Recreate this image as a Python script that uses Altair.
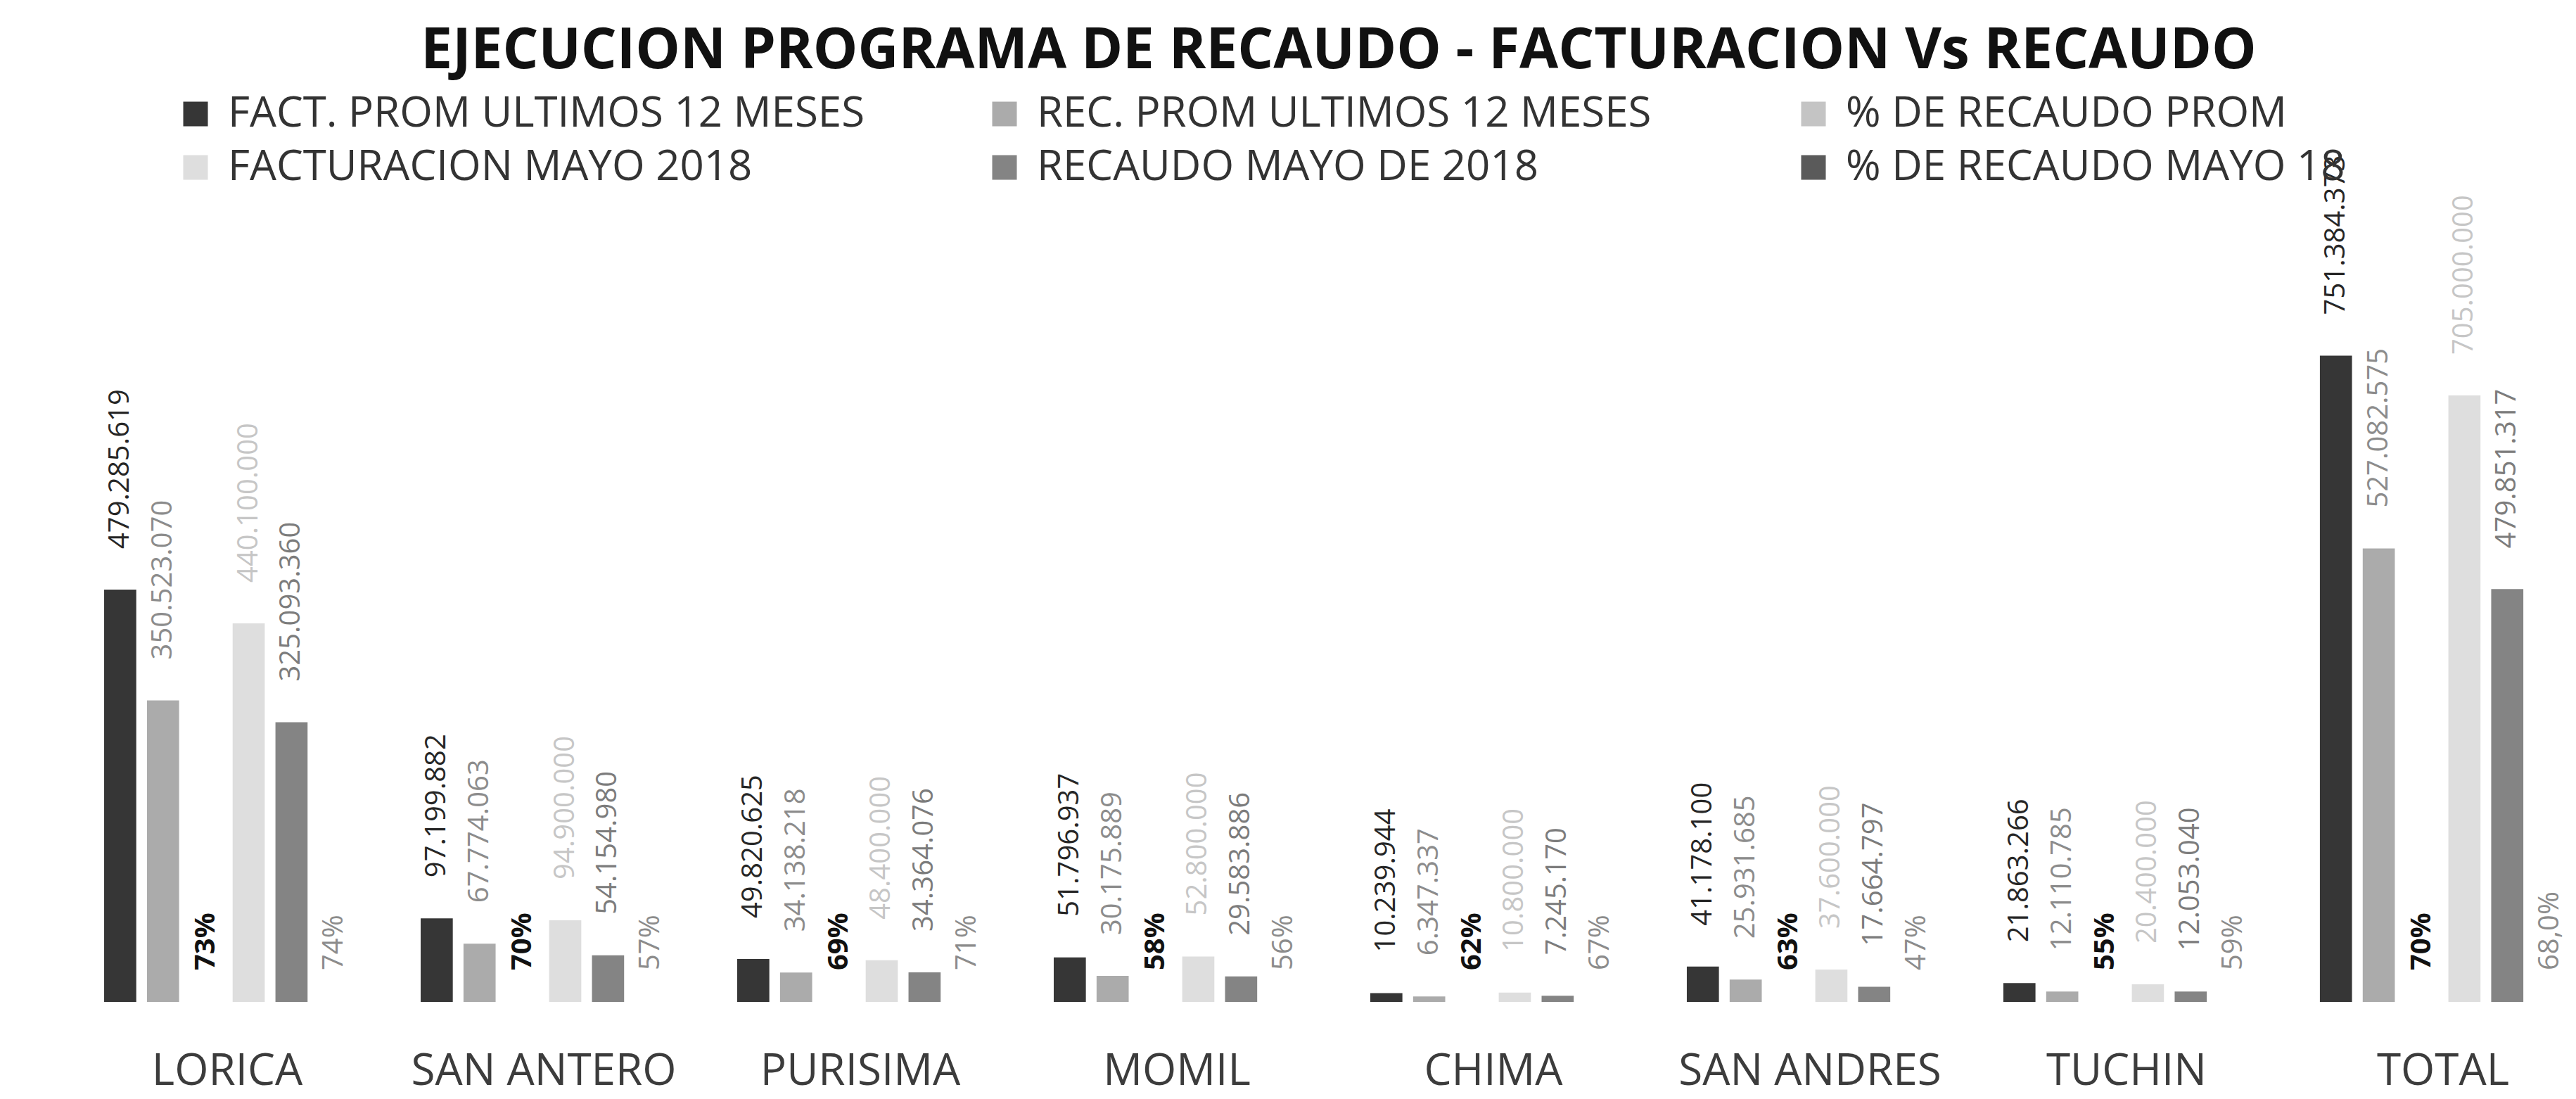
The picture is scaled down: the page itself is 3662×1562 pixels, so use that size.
import altair as alt
import pandas as pd

categories = ["LORICA", "SAN ANTERO", "PURISIMA", "MOMIL", "CHIMA", "SAN ANDRES", "TUCHIN", "TOTAL"]
series = [
    "FACT. PROM ULTIMOS 12 MESES",
    "REC. PROM ULTIMOS 12 MESES",
    "% DE RECAUDO PROM",
    "FACTURACION MAYO 2018",
    "RECAUDO MAYO DE 2018",
    "% DE RECAUDO MAYO 18",
]

fact_prom = [479285619, 97199882, 49820625, 51796937, 10239944, 41178100, 21863266, 751384373]
rec_prom = [350523070, 67774063, 34138218, 30175889, 6347337, 25931685, 12110785, 527082575]
pct_prom = [0.73, 0.70, 0.69, 0.58, 0.62, 0.63, 0.55, 0.70]
pct_prom_labels = ["73%", "70%", "69%", "58%", "62%", "63%", "55%", "70%"]
fact_mayo = [440100000, 94900000, 48400000, 52800000, 10800000, 37600000, 20400000, 705000000]
rec_mayo = [325093360, 54154980, 34364076, 29583886, 7245170, 17664797, 12053040, 479851317]
pct_mayo = [0.74, 0.57, 0.71, 0.56, 0.67, 0.47, 0.59, 0.68]
pct_mayo_labels = ["74%", "57%", "71%", "56%", "67%", "47%", "59%", "68,0%"]

bar_colors = ["#363636", "#ababab", "#c4c4c4", "#dedede", "#848484", "#5a5a5a"]
label_colors = ["#262626", "#8c8c8c", "#111111", "#c6c6c6", "#7c7c7c", "#8c8c8c"]


def fmt(v):
    return f"{v:,}".replace(",", ".")


rows = []
for i, c in enumerate(categories):
    vals = [fact_prom[i], rec_prom[i], pct_prom[i], fact_mayo[i], rec_mayo[i], pct_mayo[i]]
    labs = [fmt(fact_prom[i]), fmt(rec_prom[i]), pct_prom_labels[i],
            fmt(fact_mayo[i]), fmt(rec_mayo[i]), pct_mayo_labels[i]]
    for s, v, l in zip(series, vals, labs):
        rows.append({"cat": c, "series": s, "value": v, "label": l})
df = pd.DataFrame(rows)

W = 3640
H = 1063
YMAX = 869500000

x_enc = alt.X(
    "cat:N",
    sort=categories,
    scale=alt.Scale(domain=categories, paddingInner=0.222, paddingOuter=0.1556, align=1),
    axis=alt.Axis(
        title=None, labelAngle=0, domain=False, ticks=False, grid=False,
        labelFontSize=62, labelFont="Open Sans", labelColor="#3c3c3c",
        labelPadding=68, labelLimit=1000,
    ),
)
xo_enc = alt.XOffset("series:N", scale=alt.Scale(domain=series, paddingInner=0.25, paddingOuter=0.0))
y_enc = alt.Y("value:Q", scale=alt.Scale(domain=[0, YMAX]), axis=None)

bars = alt.Chart(df).mark_bar().encode(
    x=x_enc,
    xOffset=xo_enc,
    y=y_enc,
    color=alt.Color(
        "series:N",
        scale=alt.Scale(domain=series, range=bar_colors),
        legend=alt.Legend(
            title=None, orient="none", legendX=240, legendY=-229, padding=0,
            direction="horizontal", columns=3, gridAlign="all",
            symbolType="square", symbolSize=1225, symbolStrokeWidth=0,
            labelFontSize=60, labelFont="Open Sans", labelColor="#333333",
            labelLimit=3000, labelOffset=16, columnPadding=168, rowPadding=16,
        ),
    ),
)

text_color = alt.Color("series:N", scale=alt.Scale(domain=series, range=label_colors), legend=None)

money_text = alt.Chart(df).transform_filter(
    (alt.datum.series != series[2]) & (alt.datum.series != series[5])
).mark_text(angle=270, align="left", baseline="middle", dx=58, fontSize=40, font="Open Sans").encode(
    x=x_enc, xOffset=xo_enc, y=y_enc, text="label:N", color=text_color
)

pct_mayo_text = alt.Chart(df).transform_filter(alt.datum.series == series[5]).mark_text(
    angle=270, align="left", baseline="middle", dx=45, fontSize=40, font="Open Sans"
).encode(x=x_enc, xOffset=xo_enc, y=y_enc, text="label:N", color=text_color)

pct_prom_text = alt.Chart(df).transform_filter(alt.datum.series == series[2]).mark_text(
    angle=270, align="left", baseline="middle", dx=45, fontSize=40, font="Open Sans", fontWeight="bold"
).encode(x=x_enc, xOffset=xo_enc, y=y_enc, text="label:N", color=text_color)

chart = alt.layer(bars, money_text, pct_mayo_text, pct_prom_text).resolve_scale(
    color="independent"
).properties(
    width=W,
    height=H,
    padding={"left": 0, "top": 25, "right": 0, "bottom": 5},
    title=alt.TitleParams(
        text="EJECUCION PROGRAMA DE RECAUDO - FACTURACION Vs RECAUDO",
        fontSize=80, font="Open Sans", fontWeight="bold", color="#111111",
        anchor="middle", frame="group", dx=75, offset=18,
    ),
).configure_view(stroke=None)

chart.save("out.html", embed_options={"renderer": "svg", "actions": False})
